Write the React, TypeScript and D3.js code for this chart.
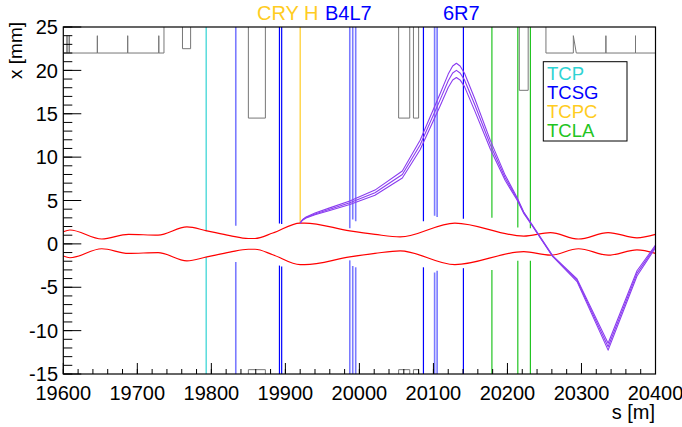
import React from 'react'
import * as d3 from 'd3'

const FONT = '"Liberation Sans", Arial, Helvetica, sans-serif'

// aperture outline (upper half, mirrored for the lower one), 40 = wide open
const apS = [19600, 19605, 19605, 19605, 19608, 19608, 19608, 19646, 19646, 19646, 19687, 19687, 19687, 19729, 19729, 19729,
  19736, 19736, 19761, 19761, 19772, 19772, 19850, 19850, 19873, 19873,
  20053, 20053, 20068, 20068, 20073, 20073, 20080, 20080, 20216, 20216, 20228, 20228, 20252, 20252,
  20289, 20289, 20293, 20333, 20333, 20333, 20373, 20373, 20373, 20400]
const apX = [22, 22, 24, 22, 22, 24, 22, 22, 24, 22, 22, 24, 22, 22, 24, 22,
  22, 40, 40, 22.5, 22.5, 40, 40, 14.5, 14.5, 40,
  40, 14.5, 14.5, 40, 40, 14.5, 14.5, 40, 40, 17.7, 17.7, 40, 40, 22,
  22, 24, 22, 22, 24, 22, 22, 24, 22, 22]

// beam envelope half width [mm]
const envS = [19600, 19609, 19652, 19688, 19728, 19767, 19794, 19825, 19850, 19859, 19883, 19920, 19926, 19987, 20021, 20055, 20129, 20222, 20258, 20296, 20336, 20375, 20400]
const envX = [1.4, 1.6, 0.56, 1.1, 1.0, 1.96, 1.5, 0.95, 0.62, 0.62, 1.25, 2.4, 2.4, 1.5, 1.1, 0.8, 2.4, 0.9, 1.3, 0.56, 1.3, 0.7, 1.1]

// channeled orbit from the crystal
const orbitS = [19920, 19923, 19928, 19940, 19960, 19987, 20021, 20058, 20082, 20109, 20120, 20126, 20131, 20136, 20142, 20156, 20177, 20197, 20213, 20222, 20233, 20261, 20294, 20336, 20375, 20400]
const orbitX = [2.4, 2.75, 3.05, 3.45, 4.0, 4.75, 5.9, 8.0, 11.4, 16.6, 18.8, 19.7, 20.0, 19.7, 18.9, 16.0, 11.4, 7.6, 5.2, 3.6, 2.2, -1.4, -4.2, -11.85, -3.4, -0.3]
const orbitSpread = [0, 0.03, 0.06, 0.1, 0.15, 0.2, 0.3, 0.4, 0.55, 0.7, 0.77, 0.8, 0.82, 0.8, 0.77, 0.7, 0.5, 0.3, 0.15, 0.08, 0.05, 0.05, 0.15, 0.4, 0.3, 0.15]

// collimators
const collS = [19793, 19833, 19892, 19895, 19920, 19987, 19991, 19995, 20086.5, 20101.6, 20105, 20140.5, 20179, 20214, 20231]
const collType = ['TCP', 'TCSG', 'TCSG', 'TCSG', 'CRY', 'TCSG', 'TCSG', 'TCSG', 'TCSG', 'TCSG', 'TCSG', 'TCSG', 'TCLA', 'TCLA', 'TCLA']
const collLight = [false, true, false, false, false, true, true, true, false, true, true, false, false, false, false]
const collUp = [1.45, 2.1, 2.36, 2.3, 2.4, 1.8, 2.8, 2.6, 2.6, 3.25, 3.1, 2.9, 3.0, 1.9, 1.8]
const collDown = [-1.5, -2.1, -2.5, -2.6, null, -1.9, -2.55, -2.7, -2.7, -3.3, -3.1, -2.8, -3.0, -1.95, -1.95]

const legendNames = ['TCP', 'TCSG', 'TCPC', 'TCLA']
const colors: Record<string, string> = { TCP: '#2ed3d3', TCSG: '#0000ff', TCPC: '#ffcc22', CRY: '#ffcc22', TCLA: '#22c422' }

export default function App() {
  const xs = d3.scaleLinear().domain([19600, 20400]).range([63.3, 655.5])
  const ys = d3.scaleLinear().domain([-15, 25]).range([374, 27])
  const [x0, x1] = xs.range()
  const [y0, y1] = ys.range()

  const ln = d3.line<[number, number]>()
  const smooth = d3.line<[number, number]>().curve(d3.curveMonotoneX)

  const apUp = ln(apS.map((s, i) => [xs(s), ys(apX[i])]))
  const apDn = ln(apS.map((s, i) => [xs(s), ys(-apX[i])]))
  const envUp = smooth(envS.map((s, i) => [xs(s), ys(envX[i])]))
  const envDn = smooth(envS.map((s, i) => [xs(s), ys(-envX[i])]))
  const orbits = [-1, 0, 1].map(k => ln(orbitS.map((s, i) => [xs(s), ys(orbitX[i] + k * orbitSpread[i])])))

  const xMajor = d3.range(19600, 20401, 100)
  const xMinor = d3.range(19600, 20401, 20)
  const yMajor = d3.range(-15, 26, 5)
  const yMinor = d3.range(-15, 26, 1)

  return (
    <svg width={682} height={427} style={{ position: 'absolute', left: 0, top: 0, background: '#fff' }} fontFamily={FONT}>
      <defs>
        <clipPath id="plotClip">
          <rect x={x0} y={y1} width={x1 - x0} height={y0 - y1} />
        </clipPath>
      </defs>
      <g clipPath="url(#plotClip)" fill="none">
        <path d={apUp || ''} stroke="#777" strokeWidth={1} />
        <path d={apDn || ''} stroke="#777" strokeWidth={1} />
        {collS.map((s, i) => {
          const c = collLight[i] ? '#7a7aff' : colors[collType[i]]
          const w = collLight[i] ? 1.6 : 1.2
          return (
            <g key={i} stroke={c} strokeWidth={w}>
              <line x1={xs(s)} x2={xs(s)} y1={y1} y2={ys(collUp[i])} />
              {collDown[i] !== null && <line x1={xs(s)} x2={xs(s)} y1={ys(collDown[i] as number)} y2={y0} />}
            </g>
          )
        })}
        <path d={envUp || ''} stroke="#ff0000" strokeWidth={1.2} />
        <path d={envDn || ''} stroke="#ff0000" strokeWidth={1.2} />
        {orbits.map((d, i) => <path key={i} d={d || ''} stroke="#8a3cf0" strokeWidth={1.1} strokeLinejoin="round" />)}
      </g>

      {/* axes ticks */}
      <g stroke="#000" strokeWidth={1}>
        {xMinor.map(v => <line key={'xm' + v} x1={xs(v)} x2={xs(v)} y1={y0} y2={y0 - 5} />)}
        {xMajor.map(v => <line key={'xM' + v} x1={xs(v)} x2={xs(v)} y1={y0} y2={y0 - 11} />)}
        {yMinor.map(v => <line key={'ym' + v} x1={x0} x2={x0 + 9} y1={ys(v)} y2={ys(v)} />)}
        {yMajor.map(v => <line key={'yM' + v} x1={x0} x2={x0 + 18} y1={ys(v)} y2={ys(v)} />)}
      </g>
      <rect x={x0} y={y1} width={x1 - x0} height={y0 - y1} fill="none" stroke="#000" strokeWidth={1.2} />

      {xMajor.map(v => (
        <text key={'xl' + v} x={xs(v)} y={400} fontSize={20} textAnchor="middle">{v}</text>
      ))}
      {yMajor.map(v => (
        <text key={'yl' + v} x={58} y={ys(v)} dy="0.36em" fontSize={20} textAnchor="end">{v}</text>
      ))}
      <text x={655} y={419} fontSize={20} textAnchor="end">s [m]</text>
      <text transform="translate(22,22) rotate(-90)" fontSize={19} textAnchor="end">x [mm]</text>

      <text x={257} y={20} fontSize={20} fill={colors.CRY}>CRY H</text>
      <text x={325} y={20} fontSize={20} fill="#0000ff">B4L7</text>
      <text x={443} y={20} fontSize={20} fill="#0000ff">6R7</text>

      <rect x={543.3} y={61.7} width={83.7} height={79.3} fill="#fff" stroke="#000" strokeWidth={1} />
      {legendNames.map((n, i) => (
        <text key={n} x={547} y={73 + i * 19.2} dy="0.36em" fontSize={18.5} fill={colors[n]}>{n}</text>
      ))}
    </svg>
  )
}
